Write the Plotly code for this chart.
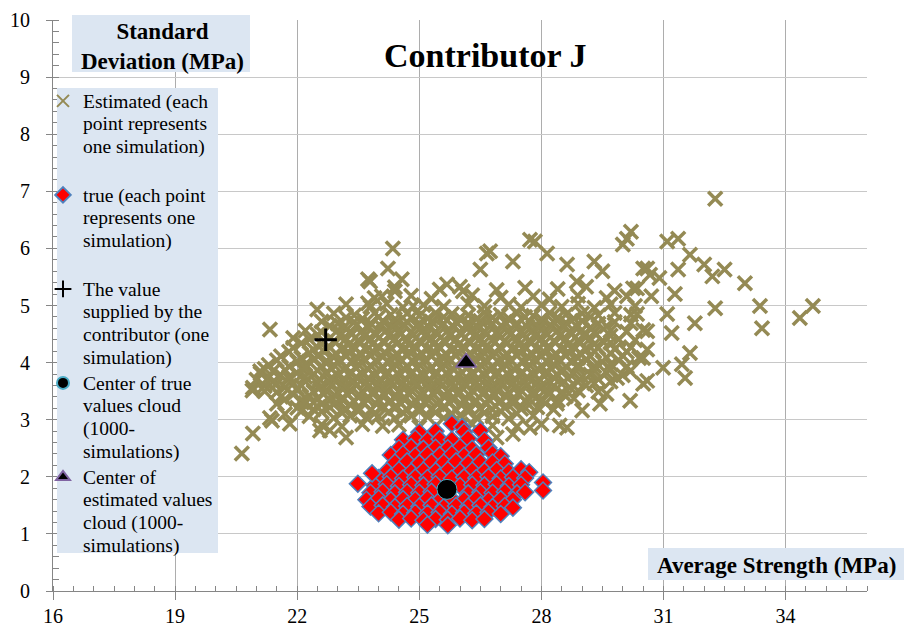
import plotly.graph_objects as go

# estimated values (each point one simulation) - dense core, read row by row
est_core = [
    (24.4, 5.32), (25.5, 5.28), (26.0, 5.33), (26.9, 5.27), (27.6, 5.31), (28.4, 5.29), (29.1, 5.33), (29.8, 5.26),
    (23.9, 5.13), (24.8, 5.17), (25.3, 5.12), (26.3, 5.18), (27.0, 5.14), (27.8, 5.16), (28.2, 5.11), (28.9, 5.17), (29.6, 5.13), (30.1, 5.16),
    (23.2, 5.02), (23.8, 4.98), (24.2, 5.03), (24.6, 4.97), (25.1, 5.01), (25.6, 4.98), (26.2, 5.03), (26.6, 4.99),
    (27.2, 5.02), (27.5, 4.97), (28.0, 5.01), (28.5, 4.98), (28.9, 5.03), (29.3, 4.96), (29.7, 5.02), (30.3, 4.99),
    (22.9, 4.86), (23.4, 4.83), (23.9, 4.87), (24.3, 4.84), (24.7, 4.86), (25.0, 4.82), (25.4, 4.87), (25.8, 4.85),
    (26.2, 4.83), (26.6, 4.88), (27.0, 4.84), (27.4, 4.86), (27.8, 4.82), (28.2, 4.87), (28.6, 4.84), (29.0, 4.86),
    (29.4, 4.83), (29.8, 4.87), (30.2, 4.84),
    (22.6, 4.72), (23.0, 4.68), (23.4, 4.71), (23.8, 4.69), (24.1, 4.73), (24.4, 4.68), (24.7, 4.71), (25.0, 4.69),
    (25.3, 4.72), (25.6, 4.68), (25.9, 4.71), (26.2, 4.7), (26.5, 4.73), (26.8, 4.68), (27.1, 4.71), (27.4, 4.69),
    (27.7, 4.72), (28.0, 4.68), (28.3, 4.71), (28.6, 4.7), (29.0, 4.73), (29.4, 4.68), (29.8, 4.71), (30.2, 4.69),
    (22.2, 4.56), (22.6, 4.53), (23.0, 4.57), (23.3, 4.54), (23.6, 4.56), (23.9, 4.52), (24.2, 4.57), (24.5, 4.55),
    (24.8, 4.53), (25.1, 4.57), (25.4, 4.54), (25.7, 4.56), (26.0, 4.52), (26.3, 4.57), (26.6, 4.55), (26.9, 4.53),
    (27.2, 4.56), (27.5, 4.54), (27.8, 4.57), (28.1, 4.53), (28.4, 4.56), (28.7, 4.54), (29.0, 4.57), (29.3, 4.53),
    (29.7, 4.56), (30.1, 4.54), (30.5, 4.57),
    (22.3, 4.41), (22.9, 4.38), (23.2, 4.42), (23.5, 4.39), (23.8, 4.41), (24.1, 4.37), (24.4, 4.42), (24.7, 4.4),
    (25.0, 4.38), (25.3, 4.42), (25.6, 4.39), (25.9, 4.41), (26.2, 4.37), (26.5, 4.42), (26.8, 4.4), (27.1, 4.38),
    (27.4, 4.41), (27.7, 4.39), (28.0, 4.42), (28.3, 4.38), (28.6, 4.41), (28.9, 4.39), (29.2, 4.42), (29.5, 4.38),
    (29.9, 4.41), (30.3, 4.39),
    (21.9, 4.26), (22.4, 4.23), (22.8, 4.27), (23.1, 4.24), (23.4, 4.26), (23.7, 4.22), (24.0, 4.27), (24.3, 4.25),
    (24.6, 4.23), (24.9, 4.27), (25.2, 4.24), (25.5, 4.26), (25.8, 4.22), (26.1, 4.27), (26.4, 4.25), (26.7, 4.23),
    (27.0, 4.26), (27.3, 4.24), (27.6, 4.27), (27.9, 4.23), (28.2, 4.26), (28.5, 4.24), (28.8, 4.27), (29.1, 4.23),
    (29.4, 4.26), (29.8, 4.24), (30.2, 4.27), (30.6, 4.23),
    (21.6, 4.11), (22.1, 4.08), (22.5, 4.12), (22.9, 4.09), (23.2, 4.11), (23.5, 4.07), (23.8, 4.12), (24.1, 4.1),
    (24.4, 4.08), (24.7, 4.12), (25.0, 4.09), (25.3, 4.11), (25.6, 4.07), (25.9, 4.12), (26.2, 4.1), (26.5, 4.08),
    (26.8, 4.11), (27.1, 4.09), (27.4, 4.12), (27.7, 4.08), (28.0, 4.11), (28.3, 4.09), (28.6, 4.12), (28.9, 4.08),
    (29.2, 4.11), (29.6, 4.09), (30.0, 4.12), (30.4, 4.08),
    (21.3, 3.96), (21.8, 3.93), (22.2, 3.97), (22.6, 3.94), (22.9, 3.96), (23.2, 3.92), (23.5, 3.97), (23.8, 3.95),
    (24.1, 3.93), (24.4, 3.97), (24.7, 3.94), (25.0, 3.96), (25.3, 3.92), (25.6, 3.97), (25.9, 3.95), (26.2, 3.93),
    (26.5, 3.96), (26.8, 3.94), (27.1, 3.97), (27.4, 3.93), (27.7, 3.96), (28.0, 3.94), (28.3, 3.97), (28.6, 3.93),
    (28.9, 3.96), (29.3, 3.94), (29.7, 3.97), (30.1, 3.93),
    (21.1, 3.81), (21.6, 3.78), (22.0, 3.82), (22.4, 3.79), (22.7, 3.81), (23.0, 3.77), (23.3, 3.82), (23.6, 3.8),
    (23.9, 3.78), (24.2, 3.82), (24.5, 3.79), (24.8, 3.81), (25.1, 3.77), (25.4, 3.82), (25.7, 3.8), (26.0, 3.78),
    (26.3, 3.81), (26.6, 3.79), (26.9, 3.82), (27.2, 3.78), (27.5, 3.81), (27.8, 3.79), (28.1, 3.82), (28.4, 3.78),
    (28.8, 3.81), (29.2, 3.79), (29.6, 3.82), (30.0, 3.78),
    (21.4, 3.66), (21.9, 3.63), (22.2, 3.67), (22.5, 3.64), (22.8, 3.66), (23.1, 3.62), (23.4, 3.67), (23.7, 3.65),
    (24.0, 3.63), (24.3, 3.67), (24.6, 3.64), (24.9, 3.66), (25.2, 3.62), (25.5, 3.67), (25.8, 3.65), (26.1, 3.63),
    (26.4, 3.66), (26.7, 3.64), (27.0, 3.67), (27.3, 3.63), (27.6, 3.66), (27.9, 3.64), (28.2, 3.67), (28.5, 3.63),
    (28.9, 3.66), (29.3, 3.64), (29.7, 3.67),
    (20.9, 3.51), (21.5, 3.48), (22.0, 3.52), (22.4, 3.49), (22.7, 3.51), (23.0, 3.47), (23.3, 3.52), (23.6, 3.5),
    (23.9, 3.48), (24.2, 3.52), (24.5, 3.49), (24.8, 3.51), (25.1, 3.47), (25.4, 3.52), (25.7, 3.5), (26.0, 3.48),
    (26.3, 3.51), (26.6, 3.49), (26.9, 3.52), (27.2, 3.48), (27.5, 3.51), (27.8, 3.49), (28.1, 3.52), (28.5, 3.48),
    (28.9, 3.51), (29.4, 3.49),
    (21.7, 3.36), (22.1, 3.33), (22.5, 3.37), (22.8, 3.34), (23.1, 3.36), (23.4, 3.32), (23.7, 3.37), (24.0, 3.35),
    (24.3, 3.33), (24.6, 3.37), (24.9, 3.34), (25.2, 3.36), (25.5, 3.32), (25.8, 3.37), (26.1, 3.35), (26.4, 3.33),
    (26.7, 3.36), (27.0, 3.34), (27.3, 3.37), (27.6, 3.33), (28.0, 3.36), (28.4, 3.34), (28.8, 3.37),
    (22.0, 3.21), (22.4, 3.18), (22.8, 3.22), (23.2, 3.19), (23.5, 3.21), (23.8, 3.17), (24.1, 3.22), (24.4, 3.2),
    (24.7, 3.18), (25.0, 3.22), (25.3, 3.19), (25.6, 3.21), (25.9, 3.17), (26.2, 3.22), (26.5, 3.2), (26.8, 3.18),
    (27.1, 3.21), (27.5, 3.19), (27.9, 3.22), (28.3, 3.18),
    (22.3, 3.06), (22.9, 3.03), (23.3, 3.07), (23.7, 3.04), (24.0, 3.06), (24.4, 3.02), (24.8, 3.07), (25.2, 3.05),
    (25.6, 3.03), (26.0, 3.07), (26.4, 3.04), (26.8, 3.06), (27.2, 3.02), (27.8, 3.07),
    (22.6, 2.91), (23.1, 2.88), (23.6, 2.92), (24.1, 2.89), (24.5, 2.91), (25.0, 2.87), (26.3, 2.92), (26.8, 2.9),
    (27.4, 2.88), (28.0, 2.92),
]

# estimated values - in-between rows of the densest part
est_core2 = [
    (23.2, 4.79), (23.6, 4.77), (24.0, 4.8), (24.4, 4.76), (24.8, 4.79), (25.2, 4.77), (25.6, 4.8), (26.0, 4.78),
    (26.4, 4.76), (26.8, 4.79), (27.2, 4.77), (27.6, 4.8), (28.0, 4.76), (28.4, 4.79), (28.8, 4.77), (29.2, 4.8),
    (22.8, 4.64), (23.15, 4.62), (23.45, 4.65), (23.75, 4.61), (24.05, 4.64), (24.35, 4.62), (24.65, 4.65), (24.95, 4.63),
    (25.25, 4.61), (25.55, 4.64), (25.85, 4.62), (26.15, 4.65), (26.45, 4.61), (26.75, 4.64), (27.05, 4.62), (27.35, 4.65),
    (27.65, 4.63), (27.95, 4.61), (28.25, 4.64), (28.55, 4.62), (28.85, 4.65), (29.2, 4.61), (29.6, 4.64),
    (22.5, 4.49), (23.05, 4.47), (23.35, 4.5), (23.65, 4.46), (23.95, 4.49), (24.25, 4.47), (24.55, 4.5), (24.85, 4.48),
    (25.15, 4.46), (25.45, 4.49), (25.75, 4.47), (26.05, 4.5), (26.35, 4.46), (26.65, 4.49), (26.95, 4.47), (27.25, 4.5),
    (27.55, 4.48), (27.85, 4.46), (28.15, 4.49), (28.45, 4.47), (28.75, 4.5), (29.05, 4.46), (29.35, 4.49), (29.7, 4.47),
    (22.1, 4.34), (22.6, 4.32), (22.95, 4.35), (23.25, 4.31), (23.55, 4.34), (23.85, 4.32), (24.15, 4.35), (24.45, 4.33),
    (24.75, 4.31), (25.05, 4.34), (25.35, 4.32), (25.65, 4.35), (25.95, 4.31), (26.25, 4.34), (26.55, 4.32), (26.85, 4.35),
    (27.15, 4.33), (27.45, 4.31), (27.75, 4.34), (28.05, 4.32), (28.35, 4.35), (28.65, 4.31), (28.95, 4.34), (29.3, 4.32),
    (29.7, 4.35),
    (21.8, 4.19), (22.3, 4.17), (22.65, 4.2), (22.95, 4.16), (23.25, 4.19), (23.55, 4.17), (23.85, 4.2), (24.15, 4.18),
    (24.45, 4.16), (24.75, 4.19), (25.05, 4.17), (25.35, 4.2), (25.65, 4.16), (25.95, 4.19), (26.25, 4.17), (26.55, 4.2),
    (26.85, 4.18), (27.15, 4.16), (27.45, 4.19), (27.75, 4.17), (28.05, 4.2), (28.35, 4.16), (28.65, 4.19), (28.95, 4.17),
    (29.3, 4.2), (29.7, 4.16), (30.1, 4.19),
    (21.5, 4.04), (22.0, 4.02), (22.4, 4.05), (22.75, 4.01), (23.05, 4.04), (23.35, 4.02), (23.65, 4.05), (23.95, 4.03),
    (24.25, 4.01), (24.55, 4.04), (24.85, 4.02), (25.15, 4.05), (25.45, 4.01), (25.75, 4.04), (26.05, 4.02), (26.35, 4.05),
    (26.65, 4.03), (26.95, 4.01), (27.25, 4.04), (27.55, 4.02), (27.85, 4.05), (28.15, 4.01), (28.45, 4.04), (28.75, 4.02),
    (29.1, 4.05), (29.5, 4.01), (29.9, 4.04),
    (21.2, 3.89), (21.7, 3.87), (22.1, 3.9), (22.5, 3.86), (22.85, 3.89), (23.15, 3.87), (23.45, 3.9), (23.75, 3.88),
    (24.05, 3.86), (24.35, 3.89), (24.65, 3.87), (24.95, 3.9), (25.25, 3.86), (25.55, 3.89), (25.85, 3.87), (26.15, 3.9),
    (26.45, 3.88), (26.75, 3.86), (27.05, 3.89), (27.35, 3.87), (27.65, 3.9), (27.95, 3.86), (28.25, 3.89), (28.55, 3.87),
    (28.9, 3.9), (29.3, 3.86), (29.7, 3.89),
    (21.3, 3.74), (21.8, 3.72), (22.2, 3.75), (22.55, 3.71), (22.85, 3.74), (23.15, 3.72), (23.45, 3.75), (23.75, 3.73),
    (24.05, 3.71), (24.35, 3.74), (24.65, 3.72), (24.95, 3.75), (25.25, 3.71), (25.55, 3.74), (25.85, 3.72), (26.15, 3.75),
    (26.45, 3.73), (26.75, 3.71), (27.05, 3.74), (27.35, 3.72), (27.65, 3.75), (27.95, 3.71), (28.3, 3.74), (28.65, 3.72),
    (29.0, 3.75), (29.4, 3.71),
    (21.2, 3.59), (21.7, 3.57), (22.1, 3.6), (22.55, 3.56), (22.85, 3.59), (23.15, 3.57), (23.45, 3.6), (23.75, 3.58),
    (24.05, 3.56), (24.35, 3.59), (24.65, 3.57), (24.95, 3.6), (25.25, 3.56), (25.55, 3.59), (25.85, 3.57), (26.15, 3.6),
    (26.45, 3.58), (26.75, 3.56), (27.05, 3.59), (27.35, 3.57), (27.65, 3.6), (27.95, 3.56), (28.3, 3.59), (28.7, 3.57),
    (29.1, 3.6),
    (21.9, 3.44), (22.3, 3.42), (22.65, 3.45), (22.95, 3.41), (23.25, 3.44), (23.55, 3.42), (23.85, 3.45), (24.15, 3.43),
    (24.45, 3.41), (24.75, 3.44), (25.05, 3.42), (25.35, 3.45), (25.65, 3.41), (25.95, 3.44), (26.25, 3.42), (26.55, 3.45),
    (26.85, 3.43), (27.15, 3.41), (27.45, 3.44), (27.8, 3.42), (28.2, 3.45), (28.6, 3.41),
    (22.2, 3.29), (22.6, 3.27), (22.95, 3.3), (23.3, 3.26), (23.65, 3.29), (23.95, 3.27), (24.25, 3.3), (24.55, 3.28),
    (24.85, 3.26), (25.15, 3.29), (25.45, 3.27), (25.75, 3.3), (26.05, 3.26), (26.35, 3.29), (26.65, 3.27), (26.95, 3.3),
    (27.3, 3.28), (27.7, 3.26), (28.1, 3.29),
    (22.6, 3.14), (23.1, 3.12), (23.5, 3.15), (23.9, 3.11), (24.25, 3.14), (24.6, 3.12), (25.0, 3.15), (25.4, 3.13),
    (25.8, 3.11), (26.2, 3.14), (26.6, 3.12), (27.0, 3.15), (27.4, 3.11),
]

# estimated values - scattered points at the edge of the cloud
est_outer = [
    (32.27, 6.87), (30.2, 6.29), (30.0, 6.07), (31.09, 6.12), (31.36, 6.17), (31.65, 5.89), (32.0, 5.72),
    (32.5, 5.63), (32.2, 5.51), (33.0, 5.39), (33.37, 4.99), (33.42, 4.6), (34.35, 4.78), (34.67, 4.99),
    (32.27, 4.95), (31.77, 4.69), (31.28, 5.2), (31.36, 5.63), (30.6, 5.65), (30.9, 5.48), (30.7, 5.16),
    (31.09, 4.85), (31.2, 4.52), (31.65, 4.17), (31.45, 3.97), (31.53, 3.73), (30.99, 3.91), (30.6, 3.68),
    (30.35, 5.3), (20.64, 2.41), (20.91, 2.76), (21.33, 3.03), (21.09, 3.85), (20.91, 3.56), (21.33, 4.58),
    (21.9, 4.43), (22.49, 4.93), (24.35, 6.0), (24.23, 5.65), (24.57, 5.46), (23.74, 5.46), (24.08, 5.16),
    (23.74, 5.04), (24.85, 4.99), (21.5, 3.63), (21.5, 3.28), (21.82, 2.93), (21.38, 2.98), (22.8, 2.81),
    (23.2, 2.69), (22.56, 2.81), (28.63, 2.86), (27.72, 2.86), (27.3, 2.75), (26.9, 2.69), (27.72, 6.15),
    (26.66, 5.91), (26.5, 5.63), (25.68, 5.37), (26.07, 5.25), (27.3, 5.77), (28.14, 5.91), (30.1, 6.17),
    (29.3, 5.77), (29.5, 5.6), (28.63, 5.72), (30.5, 5.65), (30.67, 5.54), (28.87, 5.42), (30.25, 5.3),
    (30.35, 4.85), (30.6, 4.55), (30.5, 4.08), (30.18, 3.85), (30.5, 3.63), (29.86, 3.73), (30.18, 3.33),
    (29.44, 3.28), (29.0, 3.16), (29.6, 3.45), (28.38, 3.28), (27.84, 6.12), (26.74, 5.95), (23.79, 5.42),
    (24.4, 5.25), (21.0, 3.7), (21.2, 3.5), (21.6, 3.4), (21.8, 3.75), (22.0, 3.55), (22.2, 3.9), (21.4, 3.85),
    (22.4, 3.3), (22.1, 3.15), (21.7, 3.1), (28.45, 2.9),
]

# true values (each point one simulation)
true_pts = [
    (25.8, 2.93), (26.05, 2.87),
    (25.0, 2.78), (25.4, 2.8), (26.1, 2.79), (26.5, 2.81),
    (24.6, 2.65), (24.9, 2.67), (25.2, 2.64), (25.5, 2.66), (25.8, 2.65), (26.2, 2.67), (26.6, 2.64),
    (24.5, 2.5), (24.8, 2.52), (25.1, 2.49), (25.4, 2.51), (25.7, 2.5), (26.0, 2.52), (26.3, 2.49), (26.7, 2.51),
    (24.3, 2.38), (24.6, 2.4), (24.9, 2.37), (25.2, 2.39), (25.5, 2.38), (25.8, 2.4), (26.1, 2.37), (26.4, 2.39),
    (26.8, 2.41), (27.0, 2.36),
    (24.4, 2.25), (24.7, 2.27), (25.0, 2.24), (25.3, 2.26), (25.6, 2.25), (25.9, 2.27), (26.2, 2.24), (26.5, 2.26),
    (26.8, 2.25), (27.1, 2.23),
    (24.2, 2.1), (24.5, 2.12), (24.8, 2.09), (25.1, 2.11), (25.4, 2.1), (25.7, 2.12), (26.0, 2.09), (26.3, 2.11),
    (26.6, 2.1), (26.9, 2.12), (27.2, 2.09), (27.5, 2.13), (27.7, 2.08),
    (24.0, 1.98), (24.3, 2.0), (24.6, 1.97), (24.9, 1.99), (25.2, 1.98), (25.5, 2.0), (25.8, 1.97), (26.1, 1.99),
    (26.4, 1.98), (26.7, 2.0), (27.0, 1.97), (27.3, 1.99), (27.6, 1.98),
    (23.9, 1.85), (24.2, 1.87), (24.5, 1.84), (24.8, 1.86), (25.1, 1.85), (25.4, 1.87), (26.0, 1.84), (26.3, 1.86),
    (26.6, 1.85), (26.9, 1.87), (27.2, 1.84), (27.5, 1.86),
    (23.8, 1.72), (24.1, 1.74), (24.4, 1.71), (24.7, 1.73), (25.0, 1.72), (25.3, 1.74), (26.2, 1.71), (26.5, 1.73),
    (26.8, 1.72), (27.1, 1.74), (27.4, 1.71), (27.6, 1.73),
    (23.7, 1.6), (24.0, 1.62), (24.3, 1.59), (24.6, 1.61), (24.9, 1.6), (25.2, 1.62), (25.5, 1.59), (25.8, 1.61),
    (26.1, 1.6), (26.4, 1.62), (26.7, 1.59), (27.0, 1.61), (27.3, 1.6),
    (23.8, 1.48), (24.1, 1.5), (24.4, 1.47), (24.7, 1.49), (25.0, 1.48), (25.3, 1.5), (25.6, 1.47), (25.9, 1.49),
    (26.2, 1.48), (26.5, 1.5), (26.8, 1.47), (27.1, 1.49), (27.3, 1.46),
    (24.0, 1.36), (24.3, 1.38), (24.6, 1.35), (24.9, 1.37), (25.2, 1.36), (25.5, 1.38), (25.8, 1.35), (26.1, 1.37),
    (26.4, 1.36), (26.7, 1.38), (27.0, 1.35),
    (24.5, 1.25), (24.8, 1.27), (25.1, 1.24), (25.4, 1.26), (25.7, 1.25), (26.0, 1.27), (26.3, 1.24), (26.6, 1.26),
    (25.2, 1.16), (25.7, 1.15),
    (23.49, 1.88), (23.84, 2.06), (28.04, 1.9), (28.04, 1.76),
]

supplied = (22.7, 4.4)
center_true = (25.68, 1.78)
center_est = (26.15, 4.0)

est_all = est_core + est_core2 + est_outer
est_x = [p[0] for p in est_all]
est_y = [p[1] for p in est_all]
true_x = [p[0] for p in true_pts]
true_y = [p[1] for p in true_pts]

SERIF = "Liberation Serif"
BOXBG = "#DCE6F2"


def legend_text(*lines):
    # bigger glyphs than the legend font, so lines stay tight like the original
    return "<br>".join('<span style="font-size:19.5px">%s</span>' % s for s in lines)


fig = go.Figure()

fig.add_trace(go.Scatter(
    x=est_x, y=est_y, mode="markers",
    name=legend_text("Estimated (each", "point represents", "one simulation)", " "),
    marker=dict(symbol="x-thin", size=14, color="#948A54",
                line=dict(width=3.5, color="#948A54")),
))
fig.add_trace(go.Scatter(
    x=true_x, y=true_y, mode="markers",
    name=legend_text("true (each point", "represents one", "simulation)", " "),
    marker=dict(symbol="diamond", size=13, color="#FF0000",
                line=dict(width=1.5, color="#4F81BD")),
))
fig.add_trace(go.Scatter(
    x=[supplied[0]], y=[supplied[1]], mode="markers",
    name=legend_text("The value", "supplied by the", "contributor (one", "simulation)"),
    marker=dict(symbol="cross-thin", size=16, color="black",
                line=dict(width=3, color="black")),
))
fig.add_trace(go.Scatter(
    x=[center_true[0]], y=[center_true[1]], mode="markers",
    name=legend_text("Center of true", "values cloud", "(1000-", "simulations)"),
    marker=dict(symbol="circle", size=20, color="black",
                line=dict(width=1, color="#4BACC6")),
))
fig.add_trace(go.Scatter(
    x=[center_est[0]], y=[center_est[1]], mode="markers",
    name=legend_text("Center of", "estimated values", "cloud (1000-", "simulations)"),
    marker=dict(symbol="triangle-up", size=18, color="black",
                line=dict(width=1.5, color="#8064A2")),
))


# pixel -> paper helpers for the plot area (53..867 x 20..591 in the window)
def px(x):
    return (x - 53) / 814.0


def py(y):
    return (591 - y) / 571.0


# the page body adds 8px on the left and top, margins make up for it
fig.update_layout(
    width=912, height=630,
    margin=dict(l=45, r=53, t=12, b=47, autoexpand=False),
    plot_bgcolor="white", paper_bgcolor="white",
    font=dict(family=SERIF, color="black", size=20),
    showlegend=True,
    legend=dict(
        x=px(43), y=py(83), xanchor="left", yanchor="top",
        bgcolor="rgba(0,0,0,0)", font=dict(family=SERIF, size=17.5, color="black"),
        valign="top", itemsizing="constant", tracegroupgap=0,
    ),
    xaxis=dict(
        range=[16, 36], dtick=3, tick0=16,
        showgrid=True, gridcolor="#ADADAD", gridwidth=1,
        showline=True, linecolor="#868686", linewidth=1,
        ticks="outside", ticklen=8, tickcolor="#868686",
        minor=dict(dtick=0.5, ticks="inside", ticklen=5, tickcolor="#868686", showgrid=False),
        tickfont=dict(family=SERIF, size=20), zeroline=False, automargin=False,
        ticklabelstandoff=-1,
    ),
    yaxis=dict(
        range=[0, 10], dtick=1,
        showgrid=True, gridcolor="#C8C8C8", gridwidth=1,
        showline=True, linecolor="#868686", linewidth=1,
        ticks="outside", ticklen=6, tickcolor="#868686",
        minor=dict(dtick=0.2, ticks="inside", ticklen=6, tickcolor="#868686", showgrid=False),
        tickfont=dict(family=SERIF, size=20), zeroline=False, automargin=False,
        ticklabelstandoff=12, ticklabeloverflow="allow",
    ),
    shapes=[
        dict(type="rect", xref="paper", yref="paper", layer="above",
             x0=px(57), x1=px(218), y0=py(553), y1=py(88),
             fillcolor=BOXBG, line=dict(width=0)),
        dict(type="rect", xref="paper", yref="paper", layer="above",
             x0=px(72), x1=px(250), y0=py(72), y1=py(15),
             fillcolor=BOXBG, line=dict(width=0)),
        dict(type="rect", xref="paper", yref="paper", layer="above",
             x0=px(648), x1=px(904), y0=py(580), y1=py(548),
             fillcolor=BOXBG, line=dict(width=0)),
    ],
    annotations=[
        dict(text="<b>Contributor J</b>", xref="paper", yref="paper",
             x=px(485), y=py(55), xanchor="center", yanchor="middle", showarrow=False,
             font=dict(family=SERIF, size=34, color="black")),
        dict(text="<b>Standard<br>Deviation (MPa)</b>", xref="paper", yref="paper",
             x=px(162), y=py(46), xanchor="center", yanchor="middle", showarrow=False,
             font=dict(family=SERIF, size=23, color="black")),
        dict(text="<b>Average Strength (MPa)</b>", xref="paper", yref="paper",
             x=px(776), y=py(565), xanchor="center", yanchor="middle", showarrow=False,
             font=dict(family=SERIF, size=23, color="black")),
    ],
)

fig.write_html("out.html")
